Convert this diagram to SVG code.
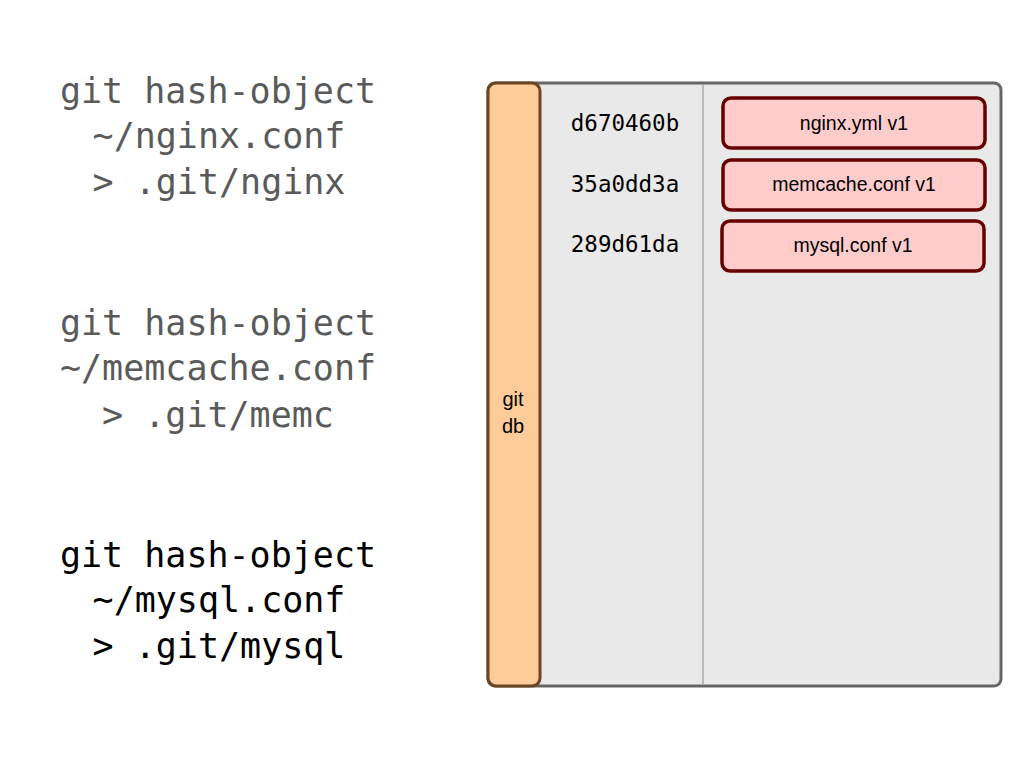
<svg xmlns="http://www.w3.org/2000/svg" width="1024" height="768" viewBox="0 0 1024 768">
<style>
.cmd{font-family:"DejaVu Sans Mono","Liberation Mono",monospace;font-size:35px;text-anchor:middle}
.gray{fill:#5a5a5a}
.dark{fill:#000}
.hash{font-family:"DejaVu Sans Mono","Liberation Mono",monospace;font-size:22.5px;text-anchor:middle;fill:#000}
.obj rect{fill:#ffcccc;stroke:#660000;stroke-width:3.5}
.obj text{font-family:"Liberation Sans",Arial,sans-serif;font-size:19.5px;text-anchor:middle;fill:#000}
.lbl{font-family:"Liberation Sans",Arial,sans-serif;font-size:20px;text-anchor:middle;fill:#000}
</style>
<rect width="1024" height="768" fill="#fff"/>
<g id="cmd-nginx" class="cmd gray">
<text x="218" y="103">git hash-object</text>
<text x="219" y="148">~/nginx.conf</text>
<text x="219" y="194">&gt; .git/nginx</text>
</g>
<g id="cmd-memcache" class="cmd gray">
<text x="218" y="335">git hash-object</text>
<text x="218" y="380">~/memcache.conf</text>
<text x="218" y="427">&gt; .git/memc</text>
</g>
<g id="cmd-mysql" class="cmd dark">
<text x="218" y="567">git hash-object</text>
<text x="219" y="612">~/mysql.conf</text>
<text x="219" y="658">&gt; .git/mysql</text>
</g>
<g id="store">
<rect x="488" y="83" width="513" height="603" rx="7" fill="#e9e9e9" stroke="#666" stroke-width="3"/>
<line x1="703" y1="84" x2="703" y2="685" stroke="#aaa" stroke-width="1.5"/>
</g>
<g id="gitdb">
<rect x="488" y="83" width="52" height="603" rx="8" fill="#ffcc99" stroke="#6b4423" stroke-width="3"/>
<text class="lbl" x="513" y="406">git</text>
<text class="lbl" x="513" y="433">db</text>
</g>
<g id="hashes">
<text class="hash" x="625" y="131">d670460b</text>
<text class="hash" x="625" y="192">35a0dd3a</text>
<text class="hash" x="625" y="252">289d61da</text>
</g>
<g id="obj-nginx" class="obj">
<rect x="723" y="98" width="262" height="50" rx="8"/>
<text x="854" y="130">nginx.yml v1</text>
</g>
<g id="obj-memcache" class="obj">
<rect x="723" y="160" width="262" height="50" rx="8"/>
<text x="854" y="191">memcache.conf v1</text>
</g>
<g id="obj-mysql" class="obj">
<rect x="722" y="221" width="262" height="50" rx="8"/>
<text x="853" y="252">mysql.conf v1</text>
</g>
<g id="connectors"/>
</svg>
